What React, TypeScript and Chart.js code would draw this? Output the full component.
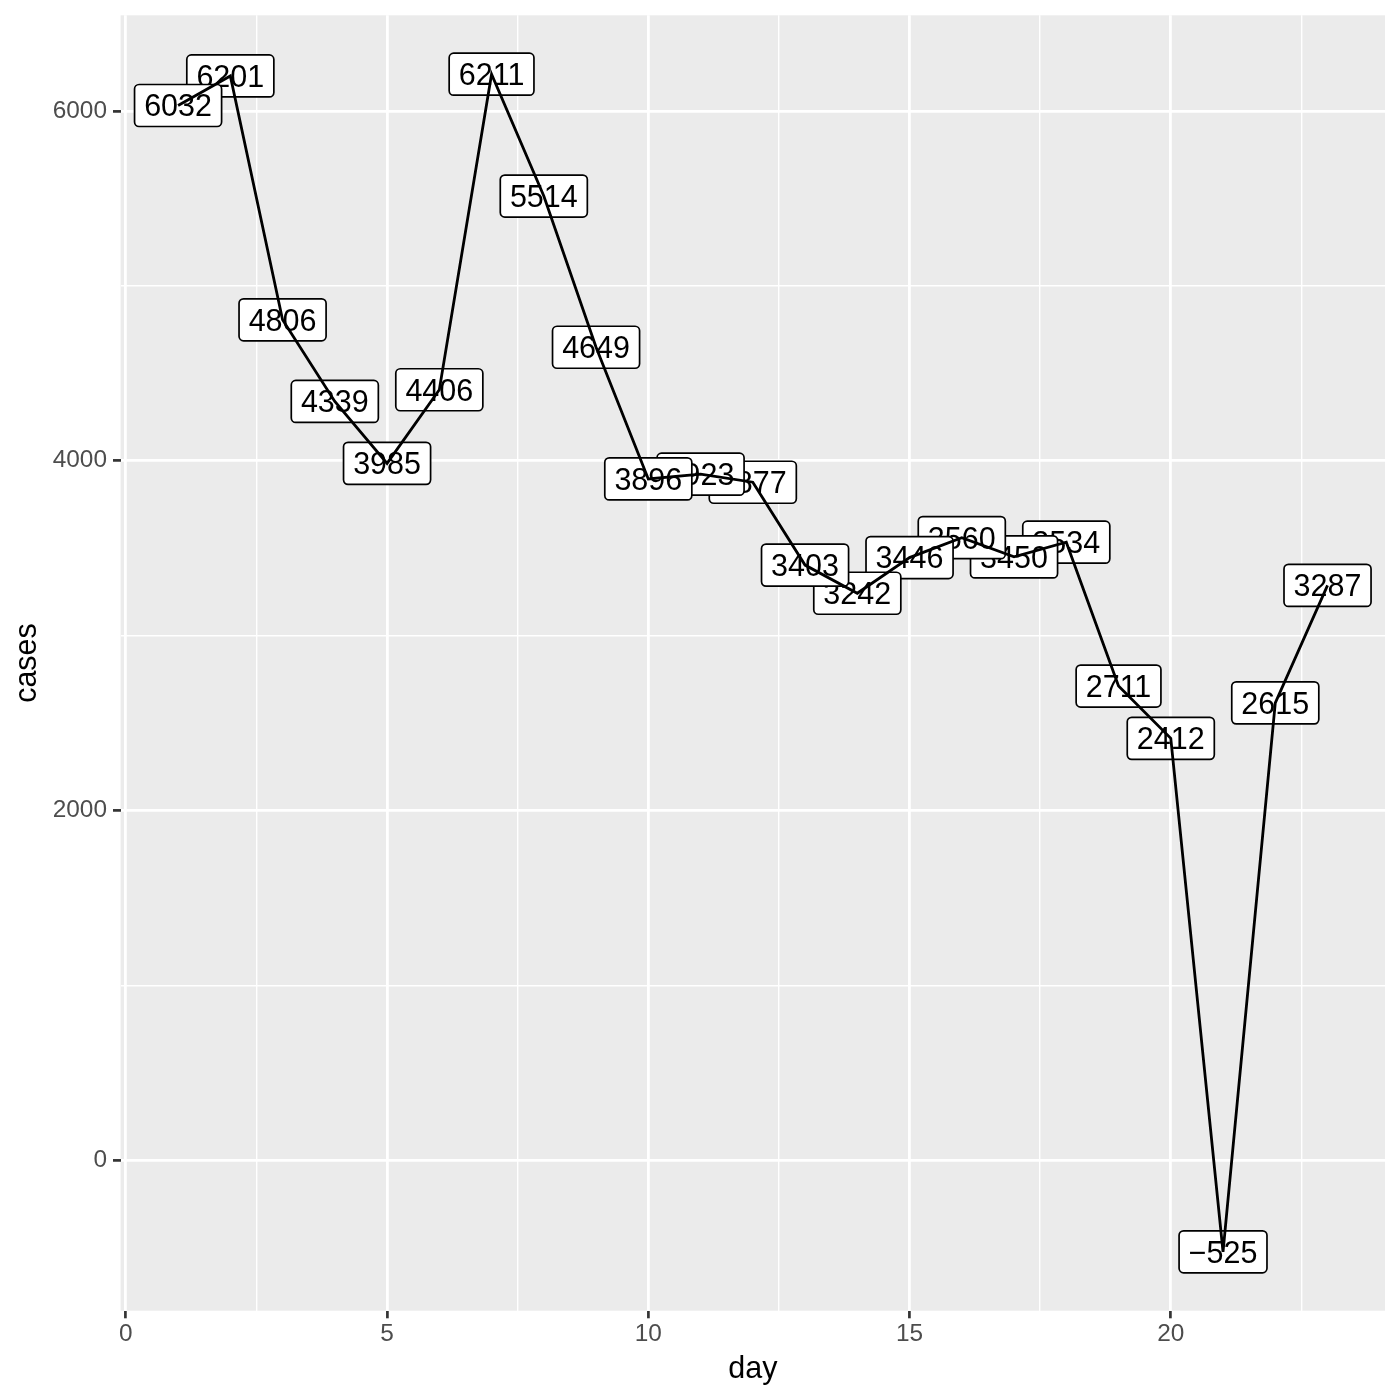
import React, { useEffect, useRef } from "react";
import { Chart, registerables } from "chart.js";

Chart.register(...registerables);

// ---- data ----
const days = [1, 2, 3, 4, 5, 6, 7, 8, 9, 10, 11, 12, 13, 14, 15, 16, 17, 18, 19, 20, 21, 22, 23];
const cases = [6032, 6201, 4806, 4339, 3985, 4406, 6211, 5514, 4649, 3896, 3923, 3877, 3403, 3242, 3446, 3560, 3450, 3534, 2711, 2412, -525, 2615, 3287];
const xTickLabels = [0, 5, 10, 15, 20];
const yTickLabels = [0, 2000, 4000, 6000];
const xGridValues = [0, 2.5, 5, 7.5, 10, 12.5, 15, 17.5, 20, 22.5];
const yGridValues = [0, 1000, 2000, 3000, 4000, 5000, 6000];
const xTitle = "day";
const yTitle = "cases";

const FONT = "'Liberation Sans', Arial, Helvetica, sans-serif";

function fmt(v: number): string {
  return v < 0 ? "\u2212" + Math.abs(v) : String(v);
}

// ggplot-style 5% expansion
const xMinD = Math.min(...days), xMaxD = Math.max(...days);
const yMinD = Math.min(...cases), yMaxD = Math.max(...cases);
const X_MIN = xMinD - 0.05 * (xMaxD - xMinD);
const X_MAX = xMaxD + 0.05 * (xMaxD - xMinD);
const Y_MIN = yMinD - 0.05 * (yMaxD - yMinD);
const Y_MAX = yMaxD + 0.05 * (yMaxD - yMinD);

const near = (a: number, b: number) => Math.abs(a - b) < 1e-6;
const isMajorX = (v: number) => xTickLabels.some((t) => near(t, v));
const isMajorY = (v: number) => yTickLabels.some((t) => near(t, v));

const bgPlugin = {
  id: "panelBg",
  beforeDraw(chart: any) {
    const { ctx, chartArea } = chart;
    ctx.save();
    ctx.fillStyle = "#FFFFFF";
    ctx.fillRect(0, 0, chart.width, chart.height);
    ctx.fillStyle = "#EBEBEB";
    ctx.fillRect(chartArea.left, chartArea.top, chartArea.right - chartArea.left, chartArea.bottom - chartArea.top);
    ctx.restore();
  },
};

const labelPlugin = {
  id: "pointLabels",
  beforeDatasetsDraw(chart: any) {
    const { ctx } = chart;
    const xs = chart.scales.x;
    const ys = chart.scales.y;
    const fs = 30.5;
    const padX = 9.6;
    const h = 42;
    const r = 4.5;
    ctx.save();
    ctx.font = `${fs}px ${FONT}`;
    ctx.textAlign = "center";
    ctx.textBaseline = "alphabetic";
    for (let i = days.length - 1; i >= 0; i--) {
      const px = xs.getPixelForValue(days[i]);
      const py = ys.getPixelForValue(cases[i]);
      const txt = fmt(cases[i]);
      const tw = ctx.measureText(txt).width;
      const w = tw + 2 * padX;
      const x0 = px - w / 2;
      const y0 = py - h / 2;
      ctx.beginPath();
      ctx.roundRect(x0, y0, w, h, r);
      ctx.fillStyle = "#FFFFFF";
      ctx.fill();
      ctx.lineWidth = 1.7;
      ctx.strokeStyle = "#000000";
      ctx.stroke();
      ctx.fillStyle = "#000000";
      ctx.fillText(txt, px, py + 0.358 * fs);
    }
    ctx.restore();
  },
};

export default function App() {
  const ref = useRef<HTMLCanvasElement | null>(null);

  useEffect(() => {
    if (!ref.current) return;
    const chart = new Chart(ref.current, {
      type: "line",
      data: {
        datasets: [
          {
            data: days.map((d, i) => ({ x: d, y: cases[i] })),
            borderColor: "#000000",
            borderWidth: 2.8,
            pointRadius: 0,
            tension: 0,
            fill: false,
          },
        ],
      },
      options: {
        animation: false,
        responsive: false,
        devicePixelRatio: 1,
        layout: { padding: { top: 15.3, right: 15, left: 0, bottom: 0 } },
        plugins: { legend: { display: false }, tooltip: { enabled: false } },
        scales: {
          x: {
            type: "linear",
            min: X_MIN,
            max: X_MAX,
            afterBuildTicks: (s: any) => {
              s.ticks = xGridValues.map((v) => ({ value: v }));
            },
            afterFit: (s: any) => {
              s.height = 89.3;
              s.paddingLeft = 0;
              s.paddingRight = 0;
              s.paddingTop = 0;
              s.paddingBottom = 0;
            },
            border: { display: false },
            grid: {
              color: "#FFFFFF",
              lineWidth: (c: any) => (isMajorX(c.tick.value) ? 2.8 : 1.4),
              drawTicks: true,
              tickLength: 7.6,
              tickColor: (c: any) => (isMajorX(c.tick.value) ? "#333333" : "rgba(0,0,0,0)"),
              tickWidth: (c: any) => (isMajorX(c.tick.value) ? 2.7 : 1),
            },
            ticks: {
              autoSkip: false,
              maxRotation: 0,
              padding: 1.5,
              color: "#4D4D4D",
              font: { family: FONT, size: 24.4 },
              callback: (v: any) => (isMajorX(Number(v)) ? String(v) : ""),
            },
            title: {
              display: true,
              text: xTitle,
              color: "#000000",
              font: { family: FONT, size: 30.5 },
              padding: { top: 0, bottom: 12 },
            },
          },
          y: {
            type: "linear",
            min: Y_MIN,
            max: Y_MAX,
            afterBuildTicks: (s: any) => {
              s.ticks = yGridValues.map((v) => ({ value: v }));
            },
            afterFit: (s: any) => {
              s.width = 120.6;
              s.paddingLeft = 0;
              s.paddingRight = 0;
              s.paddingTop = 0;
              s.paddingBottom = 0;
            },
            border: { display: false },
            grid: {
              color: "#FFFFFF",
              lineWidth: (c: any) => (isMajorY(c.tick.value) ? 2.8 : 1.4),
              drawTicks: true,
              tickLength: 7.6,
              tickColor: (c: any) => (isMajorY(c.tick.value) ? "#333333" : "rgba(0,0,0,0)"),
              tickWidth: (c: any) => (isMajorY(c.tick.value) ? 2.7 : 1),
            },
            ticks: {
              autoSkip: false,
              padding: 6,
              color: "#4D4D4D",
              font: { family: FONT, size: 24.4 },
              callback: (v: any) => (isMajorY(Number(v)) ? String(v) : ""),
            },
            title: {
              display: true,
              text: yTitle,
              color: "#000000",
              font: { family: FONT, size: 30.5 },
              padding: { top: 9.6, bottom: 0 },
            },
          },
        },
      },
      plugins: [bgPlugin, labelPlugin],
    } as any);
    return () => chart.destroy();
  }, []);

  return (
    <div style={{ position: "absolute", left: 0, top: 0, width: 1400, height: 1400 }}>
      <canvas ref={ref} width={1400} height={1400} style={{ width: 1400, height: 1400, display: "block" }} />
    </div>
  );
}
